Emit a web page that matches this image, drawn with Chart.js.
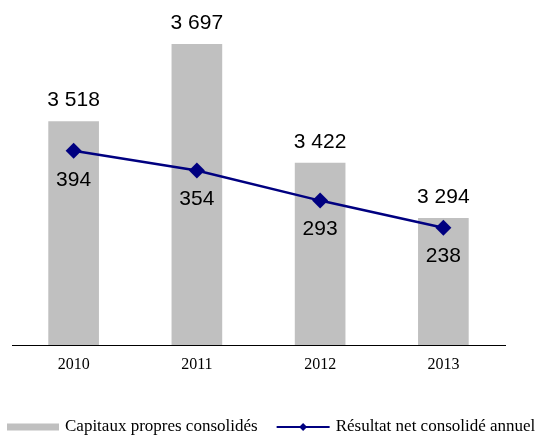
<!DOCTYPE html>
<html lang="fr">
<head>
<meta charset="utf-8">
<title>Capitaux propres et résultat net consolidés</title>
<script src="https://cdn.jsdelivr.net/npm/chart.js@4/dist/chart.umd.min.js"></script>
<style>
  html, body { margin: 0; padding: 0; background: #fff; }
  #wrap { width: 539px; height: 437px; position: relative; }
</style>
</head>
<body>
<div id="wrap"><canvas id="chart"></canvas></div>
<script>
// Years shown on the horizontal axis
const years = ['2010', '2011', '2012', '2013'];
// Consolidated equity (bars)
const capitaux = [3518, 3697, 3422, 3294];
// Annual consolidated net result (line)
const resultat = [394, 354, 293, 238];

const seriesNames = ['Capitaux propres consolidés', 'Résultat net consolidé annuel'];

const BAR_COLOR = '#C0C0C0';
const LINE_COLOR = '#000080';
const SANS = '"Liberation Sans", Arial, sans-serif';
const SERIF = '"Liberation Serif", "Times New Roman", serif';

// French-style thousands separator: 3518 -> "3 518"
const fmt = v => String(v).replace(/\B(?=(\d{3})+(?!\d))/g, ' ');

// Value labels: above each bar, below each line point
const valueLabels = {
  id: 'valueLabels',
  afterDatasetsDraw(chart) {
    const ctx = chart.ctx;
    ctx.save();
    ctx.font = '21px ' + SANS;
    ctx.fillStyle = '#000';
    ctx.textAlign = 'center';
    ctx.textBaseline = 'middle';
    chart.data.datasets.forEach((ds, di) => {
      const meta = chart.getDatasetMeta(di);
      meta.data.forEach((el, i) => {
        const v = ds.data[i];
        if (meta.type === 'bar') {
          ctx.fillText(fmt(v), el.x, el.y - 21);
        } else {
          ctx.fillText(fmt(v), el.x, el.y + 29);
        }
      });
    });
    ctx.restore();
  }
};

// Single-row legend along the bottom edge (bar swatch, then line-with-diamond)
const bottomLegend = {
  id: 'bottomLegend',
  afterDraw(chart) {
    const ctx = chart.ctx;
    const font = '17px ' + SERIF;
    const swW = 52, gapText = 6, gapItem = 19;
    const cy = chart.height - 10;
    ctx.save();
    ctx.font = font;
    const w0 = ctx.measureText(seriesNames[0]).width;
    const w1 = ctx.measureText(seriesNames[1]).width;
    const total = swW + gapText + w0 + gapItem + (swW + 1) + gapText + w1;
    let x = Math.round((chart.width - total) / 2) + 2;

    // bar swatch
    ctx.fillStyle = BAR_COLOR;
    ctx.fillRect(x, cy - 3.5, swW, 7);
    x += swW + gapText;
    ctx.fillStyle = '#000';
    ctx.textAlign = 'left';
    ctx.textBaseline = 'middle';
    ctx.fillText(seriesNames[0], x, cy);
    x += w0 + gapItem;

    // line swatch with diamond marker
    ctx.strokeStyle = LINE_COLOR;
    ctx.lineWidth = 2;
    ctx.beginPath();
    ctx.moveTo(x, cy); ctx.lineTo(x + swW + 1, cy);
    ctx.stroke();
    const mx = x + (swW + 1) / 2;
    ctx.fillStyle = LINE_COLOR;
    ctx.beginPath();
    ctx.moveTo(mx, cy - 4); ctx.lineTo(mx + 4, cy); ctx.lineTo(mx, cy + 4); ctx.lineTo(mx - 4, cy);
    ctx.closePath(); ctx.fill();
    x += swW + 1 + gapText;
    ctx.fillStyle = '#000';
    ctx.fillText(seriesNames[1], x, cy);
    ctx.restore();
  }
};

new Chart(document.getElementById('chart'), {
  data: {
    labels: years,
    datasets: [
      {
        type: 'bar',
        label: seriesNames[0],
        data: capitaux,
        backgroundColor: BAR_COLOR,
        borderWidth: 0,
        barThickness: 50,
        yAxisID: 'y',
        order: 1
      },
      {
        type: 'line',
        label: seriesNames[1],
        data: resultat,
        borderColor: LINE_COLOR,
        backgroundColor: LINE_COLOR,
        borderWidth: 2.5,
        pointStyle: 'rectRot',
        pointRadius: 8,
        pointHoverRadius: 8,
        pointBackgroundColor: LINE_COLOR,
        pointBorderWidth: 0,
        tension: 0,
        yAxisID: 'y2',
        order: 0
      }
    ]
  },
  options: {
    responsive: true,
    maintainAspectRatio: false,
    animation: false,
    layout: { autoPadding: false, padding: { top: 0, left: 12, right: 34, bottom: 42 } },
    scales: {
      x: {
        grid: { display: false },
        border: { display: true, color: '#000', width: 1 },
        ticks: { color: '#000', font: { family: SERIF, size: 16 }, padding: 2 },
        afterFit(scale) { scale.height = 50; }
      },
      y: { display: false, min: 3000, max: 3800 },
      y2: { display: false, min: 0, max: 700 }
    },
    plugins: {
      tooltip: { enabled: false },
      legend: { display: false }
    }
  },
  plugins: [valueLabels, bottomLegend]
});
</script>
</body>
</html>
